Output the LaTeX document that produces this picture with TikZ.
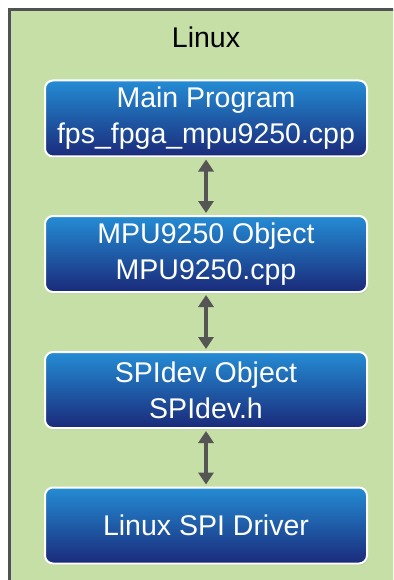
\documentclass[tikz,border=0pt]{standalone}
\usepackage{fontspec}
\setmainfont{Liberation Sans}
\usetikzlibrary{arrows.meta,shadows}
\definecolor{bg}{RGB}{197,223,166}
\definecolor{framegray}{RGB}{80,82,84}
\definecolor{boxtop}{RGB}{36,140,212}
\definecolor{boxbot}{RGB}{26,42,122}
\definecolor{arrgray}{RGB}{85,85,85}
\tikzset{
  blockbox/.style={rounded corners=8pt, draw=white, line width=2pt,
    top color=boxtop, bottom color=boxbot, text=white, align=center,
    minimum width=322pt, minimum height=76pt, inner sep=0pt,
    font=\fontsize{28.5}{36}\selectfont,
    drop shadow={shadow xshift=1pt, shadow yshift=-1.5pt, opacity=0.25}},
  link/.style={arrgray, line width=3.5pt, {Triangle[width=15pt,length=12pt]}-{Triangle[width=15pt,length=12pt]}, shorten <=2pt, shorten >=2pt}
}
\begin{document}
\begin{tikzpicture}[x=1pt,y=-1pt]
\useasboundingbox (0,0) rectangle (393,580);
\fill[white] (0,0) rectangle (393,580);
\begin{scope}
\clip (0,0) rectangle (393,580);
\draw[line width=3pt, draw=framegray, fill=bg] (9.5,9.5) rectangle (410,600);
\end{scope}
\node (title) at (206,37) {\fontsize{28.5}{34}\selectfont Linux};
\node[blockbox] (b1) at (206,118.5) {Main Program\\fps\_fpga\_mpu9250.cpp};
\node[blockbox] (b2) at (206,254) {MPU9250 Object\\MPU9250.cpp};
\node[blockbox] (b3) at (206,390) {SPIdev Object\\SPIdev.h};
\node[blockbox] (b4) at (206,525.5) {Linux SPI Driver};
\draw[link] (b1) -- (b2);
\draw[link] (b2) -- (b3);
\draw[link] (b3) -- (b4);
\end{tikzpicture}
\end{document}
